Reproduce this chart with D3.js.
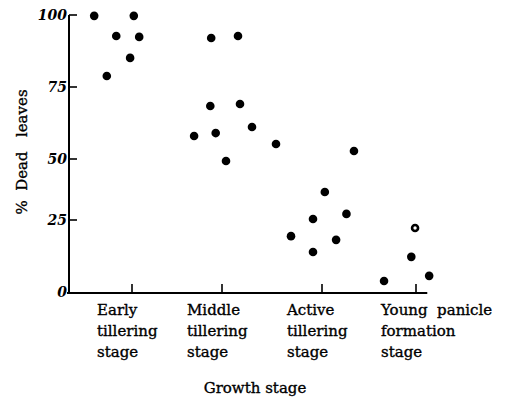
<!DOCTYPE html>
<html>
<head>
<meta charset="utf-8">
<script src="https://cdn.jsdelivr.net/npm/d3@7"></script>
<style>
body{margin:0;background:#fff;}
text{font-family:"DejaVu Serif","Liberation Serif",serif;fill:#000;stroke:#000;stroke-width:0.35px;}
</style>
</head>
<body>
<script>
// growth stages (tick positions 1..4) and their labels
var stages=[1,2,3,4];
var stageLabels=[["Early","tillering","stage"],["Middle","tillering","stage"],["Active","tillering","stage"],["Young\u00a0\u00a0panicle","formation","stage"]];
var yTicks=[0,25,50,75,100];

// points: position along the stage axis, % dead leaves
var stagePos=[0.40,0.60,0.75,0.97,1.02,1.08,
	1.69,1.87,1.88,1.93,2.04,2.16,2.18,2.30,2.54,
	2.69,2.91,2.91,3.03,3.15,3.26,3.34,
	3.66,3.95,3.99,4.14];
var deadPct=[99.7,78.8,92.7,85.1,99.7,92.4,
	58.0,68.4,92.0,59.0,49.2,92.7,69.1,61.1,55.2,
	19.4,25.4,13.9,36.5,18.1,27.5,52.8,
	3.8,12.2,22.2,5.6];
var hollow=[0,0,0,0,0,0, 0,0,0,0,0,0,0,0,0, 0,0,0,0,0,0,0, 0,0,1,0];

var svg=d3.select("body").append("svg")
	.attr("width",516)
	.attr("height",397);

// the printed axes are a little uneven, so piecewise scales
var x=d3.scaleLinear().domain([0,1,2,3,4,5]).range([69,132,222,322,416,510]);
var y=d3.scaleLinear().domain([0,25,50,75,100]).range([292,220,159,87,15]);

// axis lines
svg.append("line")
	.attr("x1",x(0)).attr("x2",x(0))
	.attr("y1",y(100)).attr("y2",y(0)+1)
	.attr("stroke","#000").attr("stroke-width",2);
svg.append("line")
	.attr("x1",x(0)-2).attr("x2",x(4.12))
	.attr("y1",y(0)+1).attr("y2",y(0)+1)
	.attr("stroke","#000").attr("stroke-width",2);

// y ticks (inside) and labels
svg.selectAll(".yt").data(yTicks.slice(1)).enter().append("line")
	.attr("x1",x(0)).attr("x2",x(0)+8)
	.attr("y1",function(d){return y(d)}).attr("y2",function(d){return y(d)})
	.attr("stroke","#000").attr("stroke-width",1.6);
svg.selectAll(".yl").data(yTicks).enter().append("text")
	.attr("x",x(0)-2)
	.attr("y",function(d){return y(d)+5})
	.attr("text-anchor","end")
	.style("font-size","14px")
	.style("font-style","italic")
	.style("font-weight","bold")
	.style("stroke-width","0")
	.text(function(d){return d});

// x ticks (inside)
svg.selectAll(".xt").data(stages).enter().append("line")
	.attr("x1",function(d){return x(d)}).attr("x2",function(d){return x(d)})
	.attr("y1",y(0)+1).attr("y2",y(0)-8)
	.attr("stroke","#000").attr("stroke-width",1.6);

// stage labels
var lab=svg.selectAll(".sl").data(stageLabels).enter().append("text")
	.attr("x",function(d,i){return x(stages[i])-35})
	.attr("y",315)
	.style("font-size","15px");
lab.selectAll("tspan").data(function(d){return d}).enter().append("tspan")
	.attr("x",function(){return d3.select(this.parentNode).attr("x")})
	.attr("dy",function(d,i){return i==0?0:21})
	.text(function(d){return d});

// axis titles
svg.append("text")
	.attr("x",255).attr("y",393)
	.attr("text-anchor","middle")
	.style("font-size","15px")
	.text("Growth stage");
svg.append("text")
	.attr("transform","translate(27,152) rotate(-90)")
	.attr("text-anchor","middle")
	.style("font-size","15px")
	.text("%\u00a0 Dead\u00a0\u00a0 leaves");

// points
svg.selectAll(".pt").data(deadPct).enter().append("circle")
	.attr("cx",function(d,i){return x(stagePos[i])})
	.attr("cy",function(d){return y(d)})
	.attr("r",function(d,i){return hollow[i]?3:4.3})
	.attr("fill",function(d,i){return hollow[i]?"#fff":"#000"})
	.attr("stroke","#000")
	.attr("stroke-width",function(d,i){return hollow[i]?2.6:0});
</script>
</body>
</html>
